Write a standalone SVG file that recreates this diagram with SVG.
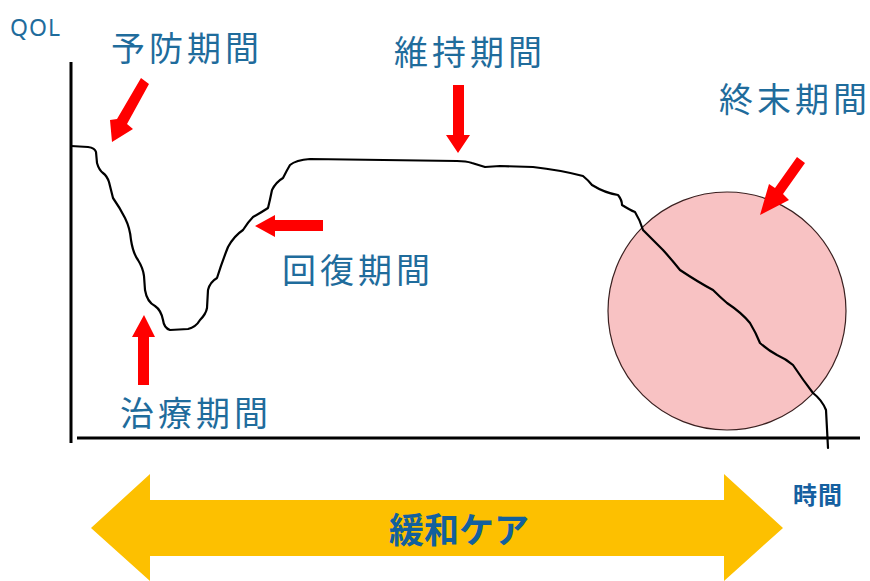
<svg xmlns="http://www.w3.org/2000/svg" width="870" height="581" viewBox="0 0 870 581">
<style>
.lbl{font-family:"Noto Sans CJK JP","Noto Sans",sans-serif;fill:#1f6c9c;font-size:34px;letter-spacing:4px}
.red{fill:#ff0000}
.axis{stroke:#000;stroke-width:3;fill:none}
.curve{stroke:#000;stroke-width:2.2;fill:none;stroke-linejoin:round;stroke-linecap:round}
</style>
<rect width="870" height="581" fill="#fff"/>
<g id="terminal-circle"><circle cx="727" cy="311" r="119" fill="#f8c2c3" stroke="#3a2020" stroke-width="1.2"/></g>
<g id="connectors">
<path class="axis" d="M71 62 V443"/>
<path class="axis" d="M77 438 H860"/>
<path class="curve" d="M71 146 L88 147 Q95 148 96 152 L97 163 Q99 170 103 173 Q107 176 109 182 L113 198 Q120 208 125 218 Q130 228 131 240 Q133 253 138 260 Q143 268 144 276 L145 290 Q147 302 155 306 Q161 310 163 320 Q164 328 170 330 L188 329 Q196 327 200 320 Q206 314 207 308 L208 290 Q210 282 217 278 Q222 262 228 247 Q234 236 243 230 Q248 222 253 217 Q262 212 268 208 Q270 200 272 190 Q276 182 283 178 Q287 170 290 165 Q296 160 310 159 L457 161 Q466 161 472 163 L485 167 L500 166 L533 167 Q560 170 583 176 Q588 180 592 185 Q605 193 618 195 Q622 200 622 205 Q630 210 635 212 Q640 220 643 230 Q655 242 663 250 Q672 260 680 270 Q698 282 713 290 Q720 297 727 303 Q742 313 750 323 Q756 333 760 343 Q768 350 777 355 Q786 359 793 365 Q803 380 813 393 Q822 400 826 410 L828 448"/>
</g>
<g id="arrow-yobou"><polygon class="red" points="141,78 149,84 127,124 133,129 112,142 110,120 117,119"/></g>
<g id="arrow-iji"><polygon class="red" points="453,85 464,85 464,135 470,135 458,153 446,135 453,135"/></g>
<g id="arrow-kaifuku"><polygon class="red" points="323,220 323,231 275,231 275,237 255,226 275,215 275,220"/></g>
<g id="arrow-chiryou"><polygon class="red" points="138,385 149,385 149,337 155,337 144,315 132,337 138,337"/></g>
<g id="arrow-shumatsu"><polygon class="red" points="797,157 805,163 783,194 789,200 760,215 769,184 775,188"/></g>
<g id="label-qol"><text x="10" y="36" style="font-family:'Noto Sans','Liberation Sans',sans-serif;fill:#1f6c9c;font-size:23px;letter-spacing:1px">QOL</text></g>
<g id="label-yobou"><text class="lbl" x="111" y="61">予防期間</text></g>
<g id="label-iji"><text class="lbl" x="394" y="65">維持期間</text></g>
<g id="label-shumatsu"><text class="lbl" x="719" y="112">終末期間</text></g>
<g id="label-kaifuku"><text class="lbl" x="282" y="283">回復期間</text></g>
<g id="label-chiryou"><text class="lbl" x="120" y="426">治療期間</text></g>
<g id="label-jikan"><text x="793" y="504" style="font-family:'Noto Sans CJK JP',sans-serif;fill:#1560a0;font-size:24px;font-weight:bold;letter-spacing:1px">時間</text></g>
<g id="kanwa-care">
<polygon fill="#fdc000" points="91,528 150,474 150,500 724,500 724,474 783,528 724,581 724,556 150,556 150,581"/>
<text x="459" y="543" text-anchor="middle" style="font-family:'Noto Sans CJK JP',sans-serif;fill:#12609e;font-size:35px;font-weight:bold">緩和ケア</text>
</g>
</svg>
